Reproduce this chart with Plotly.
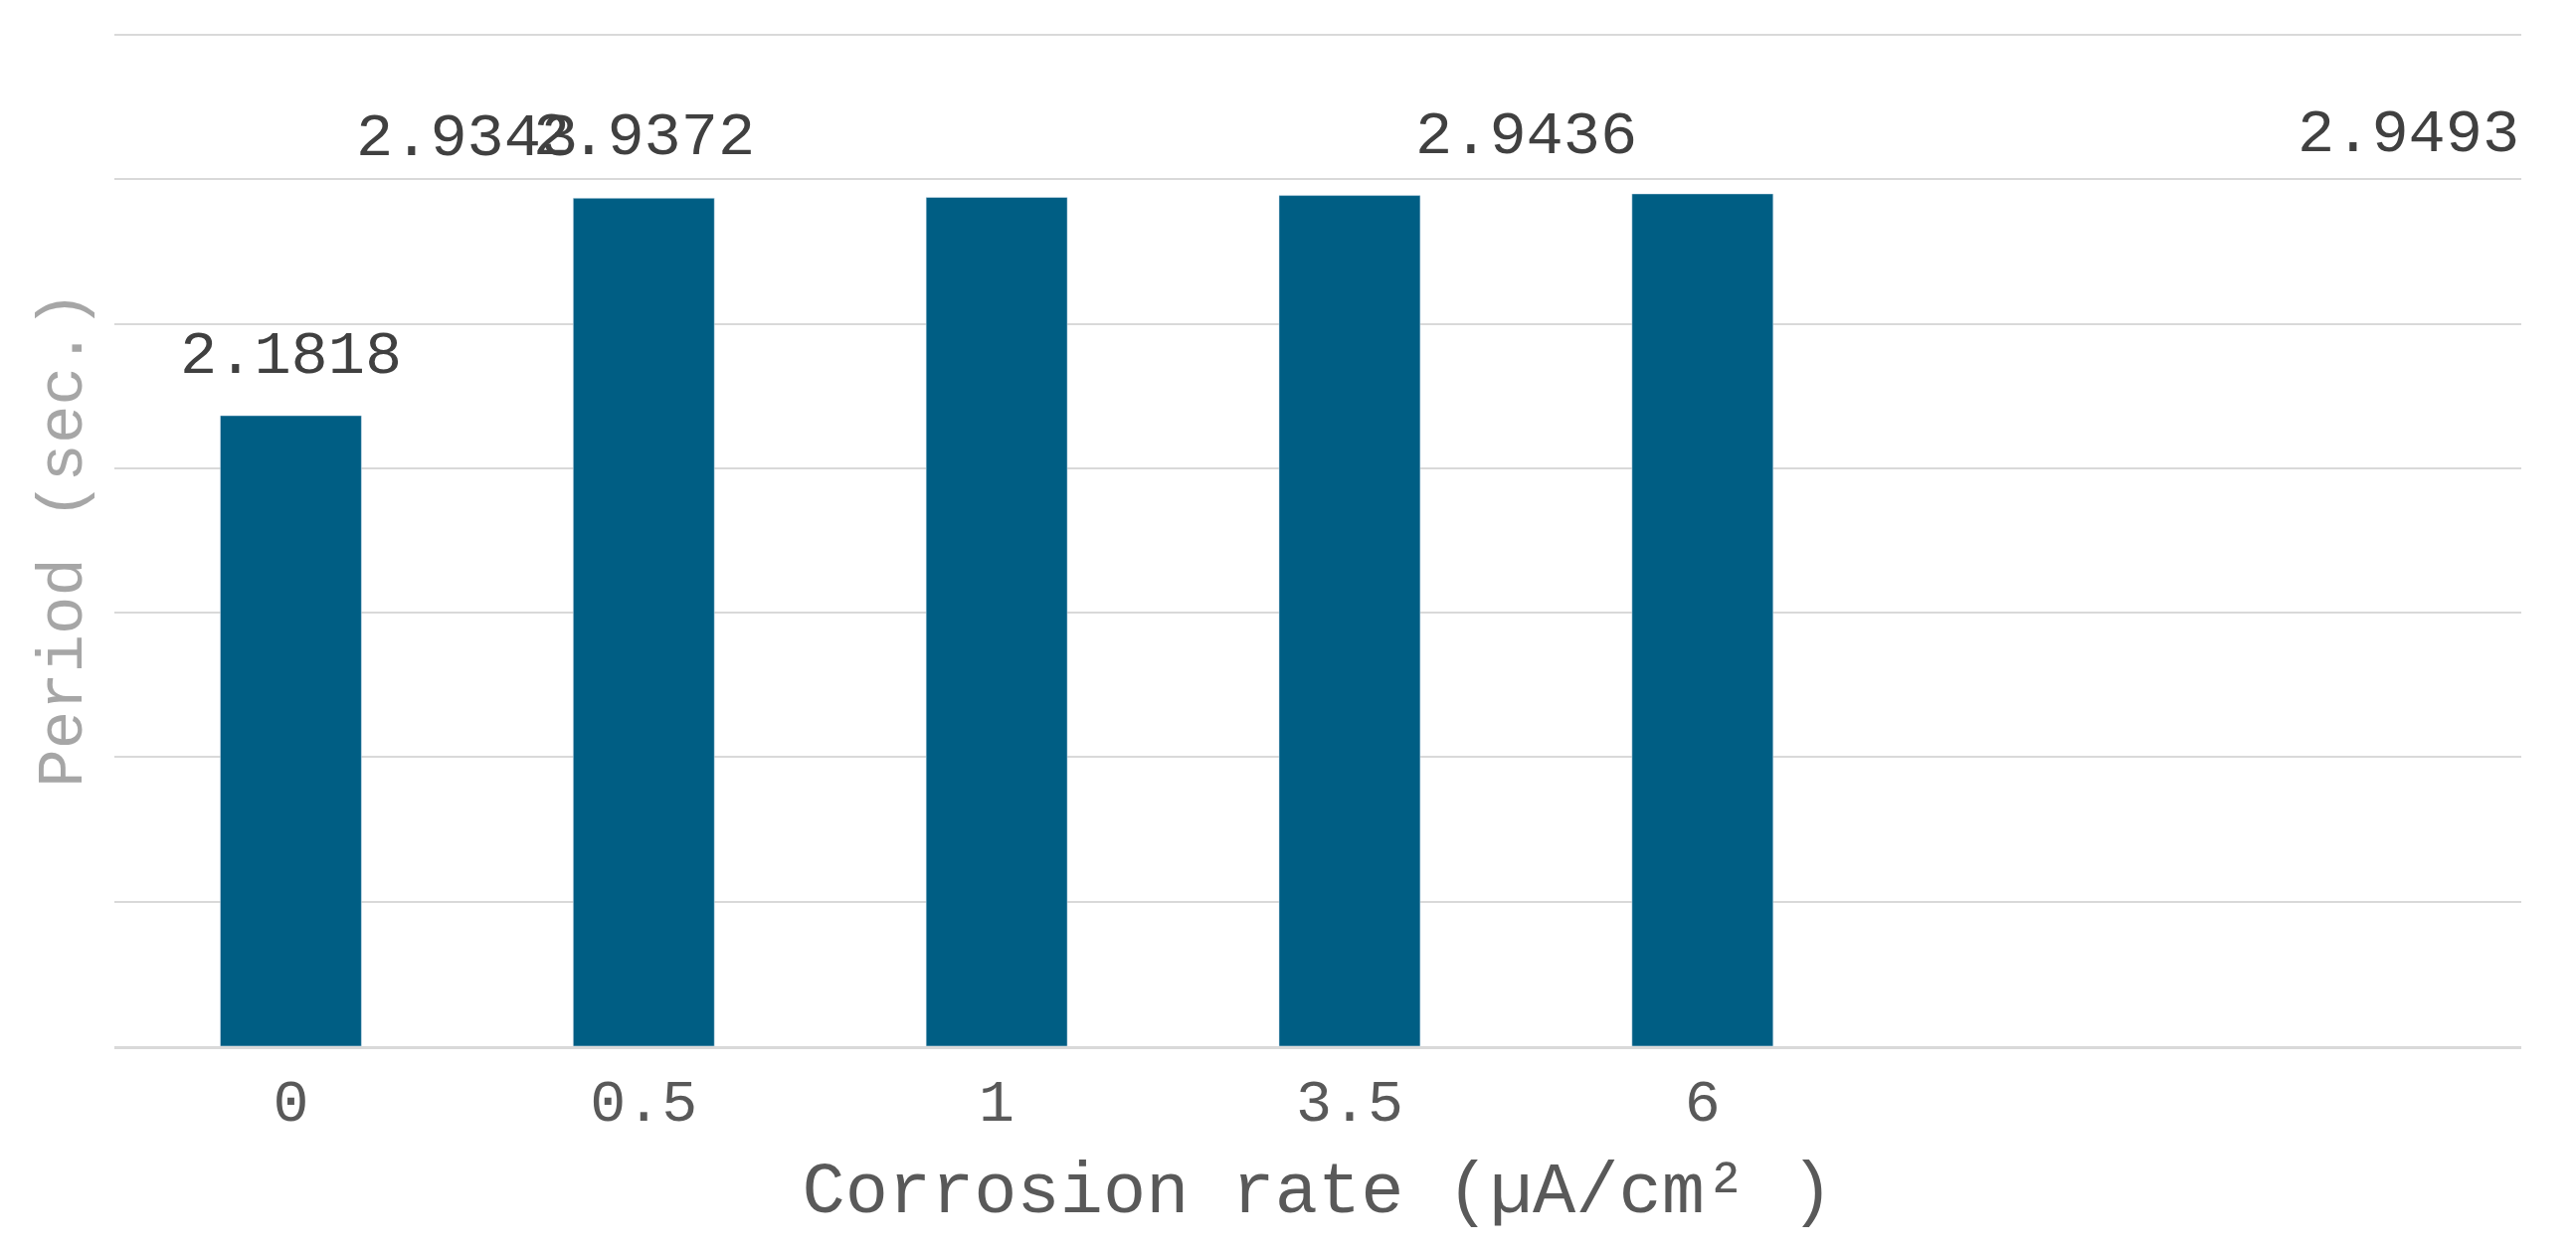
import plotly.graph_objects as go

categories = ["0", "0.5", "1", "3.5", "6"]
periods = [2.1818, 2.9343, 2.9372, 2.9436, 2.9493]
labels = ["2.1818", "2.9343", "2.9372", "2.9436", "2.9493"]

font = "Liberation Mono, Courier New, monospace"
fig = go.Figure(go.Bar(
    x=categories, y=periods,
    marker=dict(color="#005E84"), width=0.4,
))
for c, v, t in zip(categories, periods, labels):
    fig.add_annotation(x=c, y=v, text=t, showarrow=False, yanchor="bottom", yshift=22,
                       font=dict(family=font, size=62, color="#404040"))
fig.update_layout(
    width=2590, height=1259, paper_bgcolor="white", plot_bgcolor="white",
    margin=dict(l=107, r=63, t=24, b=215), showlegend=False,
    font=dict(family=font),
)
fig.update_xaxes(type="category", tickfont=dict(size=60, color="#595959"),
                 title=dict(text="Corrosion rate (µA/cm² )", font=dict(size=72, color="#595959"), standoff=25),
                 showline=True, linecolor="#D9D9D9", linewidth=3, ticks="")
fig.update_yaxes(range=[0, 3.51], dtick=0.5, showticklabels=False, gridcolor="#D9D9D9", gridwidth=2,
                 zeroline=False,
                 title=dict(text="Period (sec.)", font=dict(size=64, color="#A6A6A6"), standoff=10))
fig.write_html("out.html")
